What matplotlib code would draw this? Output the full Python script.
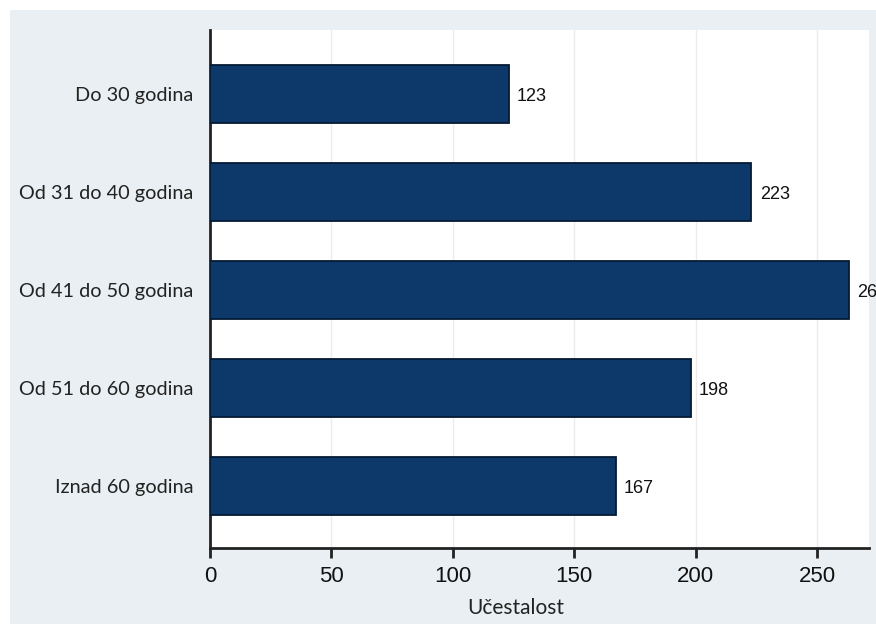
import matplotlib
matplotlib.use("Agg")
import matplotlib.pyplot as plt
from matplotlib.patches import Rectangle

categories = ["Do 30 godina", "Od 31 do 40 godina", "Od 41 do 50 godina", "Od 51 do 60 godina", "Iznad 60 godina"]
values = [123, 223, 263, 198, 167]
xticks = [0, 50, 100, 150, 200, 250]
xlabel = "Učestalost"

W, H = 876, 624
fig = plt.figure(figsize=(W/100, H/100), dpi=100)
fig.patch.set_facecolor("white")
fig.patches.append(Rectangle((10/W, 0), 1, 1 - 10/H, transform=fig.transFigure,
                             facecolor="#e9eff2", edgecolor="none", zorder=-10))

ax = fig.add_axes([210/W, 76/H, 659/W, 518/H])
ax.set_facecolor("white")
pos = list(range(len(categories)))
ax.barh(pos, values, height=0.59, color="#0c396a", edgecolor="#061a35", linewidth=1.3, zorder=3)
for p, v in zip(pos, values):
    ax.text(v + 3.4, p + 0.03, f"{v}", va="center", ha="left", fontsize=13,
            family="Liberation Sans", color="#111111", clip_on=False)

ax.set_xlim(0, 271.4)
ax.set_ylim(4.633, -0.653)
ax.set_yticks(pos)
ax.set_yticklabels(categories, family="Lato", fontsize=14.3, color="#222222")
ax.tick_params(axis="y", length=0, pad=12)
ax.set_xticks(xticks)
ax.set_xticklabels([str(t) for t in xticks], family="Liberation Sans", fontsize=16, color="#111111")
ax.tick_params(axis="x", length=7, width=2, color="#222222", pad=6)
for t in xticks[1:]:
    ax.axvline(t, color="#ececec", linewidth=1, zorder=1)
for s in ["top", "right"]:
    ax.spines[s].set_visible(False)
for s in ["left", "bottom"]:
    ax.spines[s].set_color("#222222")
    ax.spines[s].set_linewidth(2)

fig.text(516/W, 1 - 608/H, xlabel, ha="center", va="center", family="Lato", fontsize=15, color="#222222")

fig.savefig("out.png", dpi=100)
